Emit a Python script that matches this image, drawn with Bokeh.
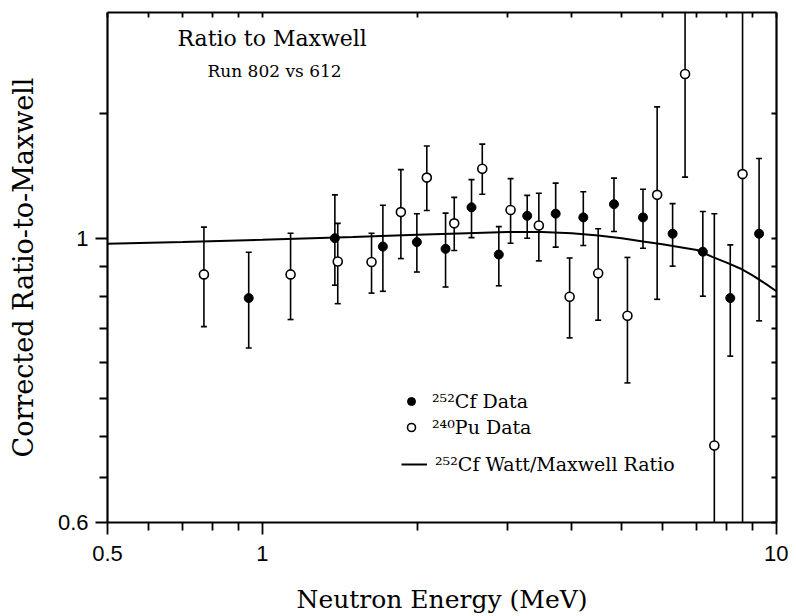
from bokeh.plotting import figure
from bokeh.models import (LogAxis, FixedTicker, CustomJSTickFormatter, Range1d, Label,
                          Legend, LegendItem)
from bokeh.embed import file_html
from bokeh.resources import INLINE

# ---- data ----
cf_energy = [0.941, 1.384, 1.716, 1.998, 2.272, 2.552, 2.884, 3.275, 3.72, 4.21, 4.83, 5.50, 6.28, 7.19, 8.13, 9.25]
cf_ratio = [0.898, 1.000, 0.985, 0.993, 0.981, 1.057, 0.971, 1.041, 1.045, 1.038, 1.063, 1.038, 1.008, 0.976, 0.898, 1.008]
cf_upper = [0.975, 1.081, 1.061, 1.045, 1.046, 1.111, 1.021, 1.080, 1.104, 1.087, 1.114, 1.092, 1.064, 1.049, 0.988, 1.154]
cf_lower = [0.821, 0.919, 0.909, 0.941, 0.916, 1.001, 0.918, 1.000, 0.984, 0.987, 1.012, 0.982, 0.951, 0.901, 0.809, 0.862]

pu_energy = [0.770, 1.135, 1.402, 1.631, 1.860, 2.089, 2.362, 2.678, 3.04, 3.45, 3.96, 4.50, 5.13, 5.86, 6.64, 7.57, 8.59]
pu_ratio = [0.937, 0.937, 0.959, 0.958, 1.048, 1.115, 1.027, 1.133, 1.052, 1.023, 0.900, 0.939, 0.870, 1.081, 1.343, 0.689, 1.122]
pu_upper = [1.020, 1.009, 1.027, 1.009, 1.131, 1.180, 1.076, 1.184, 1.113, 1.084, 0.965, 1.017, 0.966, 1.266, 1.60, 1.045, 1.60]
pu_lower = [0.853, 0.864, 0.889, 0.906, 0.964, 1.051, 0.978, 1.082, 0.991, 0.960, 0.836, 0.863, 0.771, 0.896, 1.116, 0.55, 0.55]

curve_energy = [0.5, 0.7, 1.0, 1.5, 2.0, 2.5, 3.0, 3.5, 4.0, 4.5, 5.0, 5.5, 6.0, 6.5, 7.0, 7.5, 8.0, 8.5, 9.0, 9.5, 10.0]
curve_ratio = [0.990, 0.993, 0.997, 1.002, 1.006, 1.009, 1.011, 1.011, 1.009, 1.005, 1.000, 0.994, 0.989, 0.984,
               0.979, 0.967, 0.957, 0.947, 0.935, 0.922, 0.909]

x_major = [0.5, 1, 10]
x_minor = [0.6, 0.7, 0.8, 0.9, 2, 3, 4, 5, 6, 7, 8, 9]
y_major = [0.6, 1.0]
y_minor = [0.65, 0.7, 0.75, 0.8, 0.85, 0.9, 0.95, 1.25]

title_text = "Ratio to Maxwell"
subtitle_text = "Run 802 vs 612"
legend_labels = ["\u00b2\u2075\u00b2Cf Data", "\u00b2\u2074\u2070Pu Data", "\u00b2\u2075\u00b2Cf Watt/Maxwell Ratio"]

SERIF = "DejaVu Serif"
SANS = "Liberation Sans"

p = figure(width=788, height=616, x_axis_type="log", y_axis_type="log",
           x_range=Range1d(0.5, 10), y_range=Range1d(0.6, 1.5),
           output_backend="svg", toolbar_location=None,
           min_border_left=107, min_border_right=12, min_border_top=12, min_border_bottom=94)
p.xgrid.visible = False
p.ygrid.visible = False
p.outline_line_color = None
p.background_fill_color = "white"
p.border_fill_color = "white"

fmt = CustomJSTickFormatter(code="return String(Math.round(tick*100)/100);")

xax = p.xaxis[0]
xax.ticker = FixedTicker(ticks=x_major, minor_ticks=x_minor)
xax.formatter = fmt
yax = p.yaxis[0]
yax.ticker = FixedTicker(ticks=y_major, minor_ticks=y_minor)
yax.formatter = fmt

for ax in (xax, yax):
    ax.axis_line_width = 2.2
    ax.axis_line_color = "black"
    ax.major_tick_line_width = 1.8
    ax.minor_tick_line_width = 1.8
    ax.major_tick_in = 0
    ax.major_tick_out = 12
    ax.minor_tick_in = 0
    ax.minor_tick_out = 8
    ax.major_label_text_font = SANS
    ax.major_label_text_font_size = "22px"
    ax.major_label_text_color = "black"
    ax.axis_label_text_font = SERIF
    ax.axis_label_text_font_style = "normal"
    ax.axis_label_text_color = "black"

xax.axis_label = "Neutron Energy (MeV)"
yax.axis_label = "Corrected Ratio-to-Maxwell"
xax.axis_label_text_font_size = "25px"
yax.axis_label_text_font_size = "27px"
xax.major_label_standoff = 11
xax.axis_label_standoff = 21
yax.major_label_standoff = 7
yax.axis_label_standoff = 16

top = LogAxis(ticker=FixedTicker(ticks=[], minor_ticks=x_major + x_minor))
right = LogAxis(ticker=FixedTicker(ticks=[], minor_ticks=y_major + y_minor))
for ax in (top, right):
    ax.axis_line_width = 2.2
    ax.minor_tick_line_width = 1.8
    ax.minor_tick_in = 5
    ax.minor_tick_out = 0
    ax.major_tick_in = 0
    ax.major_tick_out = 0
    ax.major_label_standoff = 0
p.add_layout(top, "above")
p.add_layout(right, "right")

# curve
line_r = p.line(curve_energy, curve_ratio, line_color="black", line_width=2)

# error bars
p.segment(cf_energy, cf_lower, cf_energy, cf_upper, line_color="black", line_width=1.6)
p.segment(pu_energy, pu_lower, pu_energy, pu_upper, line_color="black", line_width=1.6)
p.scatter(cf_energy + pu_energy, cf_upper + pu_upper, marker="dash", size=6, line_color="black", line_width=1.6)
p.scatter(cf_energy + pu_energy, cf_lower + pu_lower, marker="dash", size=6, line_color="black", line_width=1.6)

cf_r = p.scatter(cf_energy, cf_ratio, marker="circle", size=9, fill_color="black", line_color="black")
pu_r = p.scatter(pu_energy, pu_ratio, marker="circle", size=9, fill_color="white", line_color="black", line_width=1.6)


def style_legend(lg):
    lg.border_line_color = None
    lg.background_fill_alpha = 0
    lg.padding = 0
    lg.margin = 0
    lg.spacing = 4
    lg.glyph_width = 26
    lg.glyph_height = 20
    lg.label_height = 20
    lg.label_standoff = 8
    lg.label_text_font = SERIF
    lg.label_text_font_size = "19px"
    lg.label_text_color = "black"


legend1 = Legend(items=[LegendItem(label=legend_labels[0], renderers=[cf_r]),
                        LegendItem(label=legend_labels[1], renderers=[pu_r])],
                 location=(291, 84))
legend2 = Legend(items=[LegendItem(label=legend_labels[2], renderers=[line_r])],
                 location=(294, 47))
style_legend(legend1)
style_legend(legend2)
p.add_layout(legend1, "center")
p.add_layout(legend2, "center")

p.add_layout(Label(x=70, y=472, x_units="screen", y_units="screen", text=title_text,
                   text_font=SERIF, text_font_size="22px", text_color="black"))
p.add_layout(Label(x=100, y=442, x_units="screen", y_units="screen", text=subtitle_text,
                   text_font=SERIF, text_font_size="17px", text_color="black"))

open("out.html", "w").write(file_html(p, INLINE))
